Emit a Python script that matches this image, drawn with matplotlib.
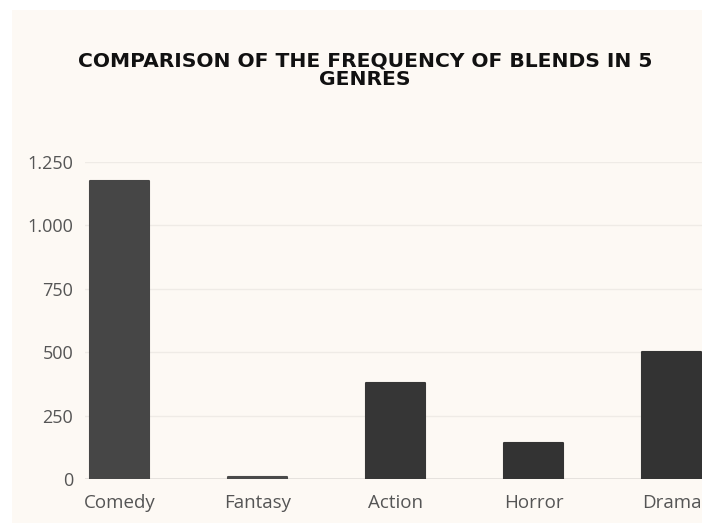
import matplotlib.pyplot as plt
from matplotlib.patches import Rectangle

genres = ['Comedy', 'Fantasy', 'Action', 'Horror', 'Drama']
blends = [1175, 8, 378, 142, 500]
bar_colors = ['#464646', '#4a4a4a', '#363636', '#333333', '#333333']
yticks = [0, 250, 500, 750, 1000, 1250]
ytick_labels = ['0', '250', '500', '750', '1.000', '1.250']

W, H = 702, 523
fig = plt.figure(figsize=(W / 100, H / 100), dpi=100, facecolor='white')

# cream panel behind the chart
fig.patches.append(Rectangle((12 / W, 0), 1, 1 - 10 / H, transform=fig.transFigure,
                             facecolor='#fdf9f4', edgecolor='none', zorder=-10))

# axes runs past the right edge, so the last bar is cut like in the original
ax = fig.add_axes([85 / W, 44 / H, 655.5 / W, 317 / H])
ax.set_facecolor('none')

x = list(range(len(genres)))
ax.bar(x, blends, width=0.43, color=bar_colors, edgecolor=bar_colors,
       linewidth=1.5, joinstyle='round', zorder=3)

ax.set_xlim(-0.25, 4.5)
ax.set_ylim(0, 1250)
ax.set_yticks(yticks)
ax.set_yticklabels(ytick_labels)
ax.set_xticks(x)
ax.set_xticklabels(genres)

ax.grid(axis='y', color='#efebe6', linewidth=1, zorder=0)
ax.axhline(0, color='#e2dedb', linewidth=1.2, zorder=2)
for s in ax.spines.values():
    s.set_visible(False)
ax.tick_params(length=0, labelcolor='#555555')
ax.tick_params(axis='y', pad=8.5, labelsize=13)
ax.tick_params(axis='x', pad=11, labelsize=13.5)
for lab in ax.get_xticklabels() + ax.get_yticklabels():
    lab.set_fontfamily('Open Sans')

fig.text(365 / W, 1 - 70.5 / H, 'COMPARISON OF THE FREQUENCY OF BLENDS IN 5\nGENRES',
         ha='center', va='center', ma='center', fontsize=14.6, fontweight='bold',
         color='#111111', linespacing=0.95)

fig.savefig('out.png', dpi=100, facecolor=fig.get_facecolor())
